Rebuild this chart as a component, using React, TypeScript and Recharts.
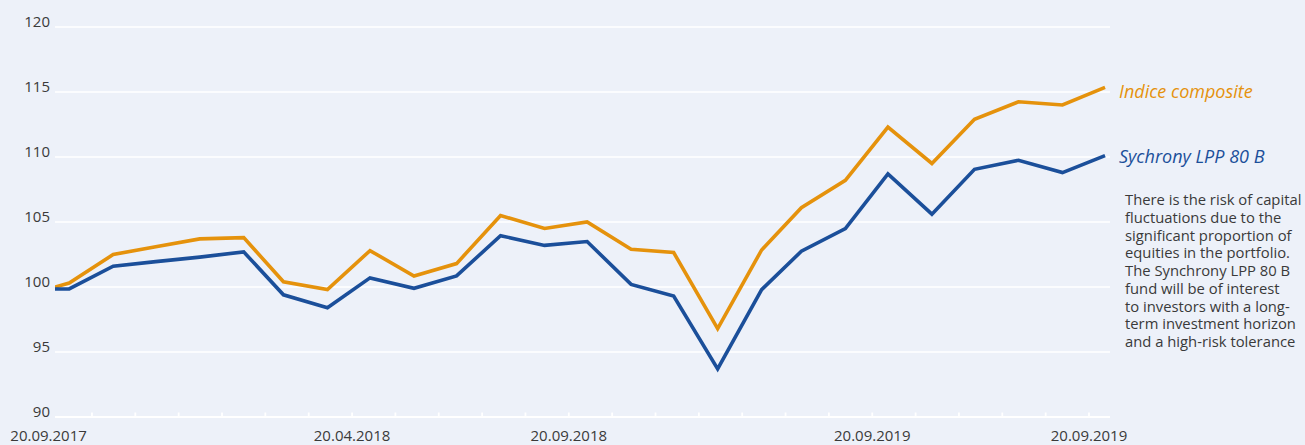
import React from 'react';
import { LineChart, Line, XAxis, YAxis, CartesianGrid } from 'recharts';

// ---- data ----
const startDate = '2017-09-20';
const dates = [
  '2017-09-20', '2017-09-30', '2017-10-31', '2017-11-30', '2017-12-31',
  '2018-01-31', '2018-02-28', '2018-03-31', '2018-04-30', '2018-05-31',
  '2018-06-30', '2018-07-31', '2018-08-31', '2018-09-30', '2018-10-31',
  '2018-11-30', '2018-12-31', '2019-01-31', '2019-02-28', '2019-03-31',
  '2019-04-30', '2019-05-31', '2019-06-30', '2019-07-31', '2019-08-31',
  '2019-09-30',
];
const indiceComposite = [
  100.0, 100.3, 102.5, 103.1, 103.7,
  103.8, 100.4, 99.8, 102.8, 100.85,
  101.8, 105.5, 104.5, 105.0, 102.9,
  102.65, 96.8, 102.85, 106.1, 108.2,
  112.3, 109.5, 112.9, 114.25, 114.0,
  115.35,
];
const synchronyLpp80B = [
  99.85, 99.85, 101.6, 101.95, 102.3,
  102.7, 99.4, 98.4, 100.7, 99.9,
  100.85, 103.95, 103.2, 103.5, 100.2,
  99.3, 93.7, 99.8, 102.75, 104.5,
  108.7, 105.6, 109.05, 109.75, 108.8,
  110.1,
];
const yTicks = [90, 95, 100, 105, 110, 115, 120];
const xTickLabels = [
  '20.09.2017', '', '', '', '', '', '', '20.04.2018', '', '', '', '', '20.09.2018',
  '', '', '', '', '', '', '20.09.2019', '', '', '', '', '20.09.2019',
];
const noteLines = [
  'There is the risk of capital',
  'fluctuations due to the',
  'significant proportion of',
  'equities in the portfolio.',
  'The Synchrony LPP 80 B',
  'fund will be of interest',
  'to investors with a long-',
  'term investment horizon',
  'and a high-risk tolerance',
];

// ---- helpers ----
const DAY = 86400000;
const t0 = Date.parse(startDate + 'T00:00:00Z');
const dayOf = (d: string) => (Date.parse(d + 'T00:00:00Z') - t0) / DAY;

const data = dates.map((d, i) => ({
  day: dayOf(d),
  composite: indiceComposite[i],
  fund: synchronyLpp80B[i],
}));

const TICK_START = -4.5;
const TICK_STEP = 30.55;
const xTicks = xTickLabels.map((_, j) => TICK_START + j * TICK_STEP);

const BG = '#EDF1F9';
const ORANGE = '#E5920C';
const BLUE = '#1B4F9A';
const TEXT = '#3a3a3a';
const FONT = '"Open Sans", sans-serif';

const XTick = (props: any) => {
  const { x, y, index } = props;
  const label = xTickLabels[index] || '';
  return (
    <g>
      {index > 0 && (
        <line x1={x} x2={x} y1={y - 4.5} y2={y} stroke="#ffffff" strokeWidth={1.8} />
      )}
      {label && (
        <text x={x} y={y + 24} textAnchor="middle" fill={TEXT} fontSize={15} fontFamily={FONT}>
          {label}
        </text>
      )}
    </g>
  );
};

const YTick = (props: any) => {
  const { x, y, payload } = props;
  return (
    <text x={x} y={y} textAnchor="end" fill={TEXT} fontSize={15} fontFamily={FONT}>
      {payload.value}
    </text>
  );
};

export default function App() {
  return (
    <div
      style={{
        position: 'absolute',
        left: 0,
        top: 0,
        width: 1305,
        height: 445,
        background: BG,
        overflow: 'hidden',
      }}
    >
      <LineChart
        width={1305}
        height={445}
        data={data}
        margin={{ top: 27, right: 195, bottom: 0, left: 0 }}
      >
        <CartesianGrid horizontal vertical={false} stroke="#ffffff" strokeWidth={1.6} />
        <XAxis
          dataKey="day"
          type="number"
          domain={[0, 743.5]}
          ticks={xTicks}
          interval={0}
          allowDataOverflow
          height={28}
          tickSize={0}
          tickMargin={0}
          axisLine={{ stroke: '#ffffff', strokeWidth: 2 }}
          tickLine={false}
          tick={<XTick />}
        />
        <YAxis
          type="number"
          domain={[90, 120]}
          ticks={yTicks}
          interval={0}
          width={55}
          tickSize={0}
          tickMargin={5}
          axisLine={false}
          tickLine={false}
          tick={<YTick />}
        />
        <Line
          type="linear"
          dataKey="composite"
          stroke={ORANGE}
          strokeWidth={3.6}
          dot={false}
          isAnimationActive={false}
        />
        <Line
          type="linear"
          dataKey="fund"
          stroke={BLUE}
          strokeWidth={3.6}
          dot={false}
          isAnimationActive={false}
        />
      </LineChart>
      <svg
        width={1305}
        height={445}
        style={{ position: 'absolute', left: 0, top: 0, pointerEvents: 'none' }}
      >
        <text x={1119} y={97.5} fill={ORANGE} fontSize={18} fontStyle="italic" fontFamily={FONT}>
          Indice composite
        </text>
        <text x={1119} y={162.5} fill={BLUE} fontSize={18} fontStyle="italic" fontFamily={FONT}>
          Sychrony LPP 80 B
        </text>
        {noteLines.map((line, i) => (
          <text
            key={i}
            x={1125}
            y={205 + i * 17.75}
            fill={TEXT}
            fontSize={14.8}
            fontFamily={FONT}
          >
            {line}
          </text>
        ))}
      </svg>
    </div>
  );
}
